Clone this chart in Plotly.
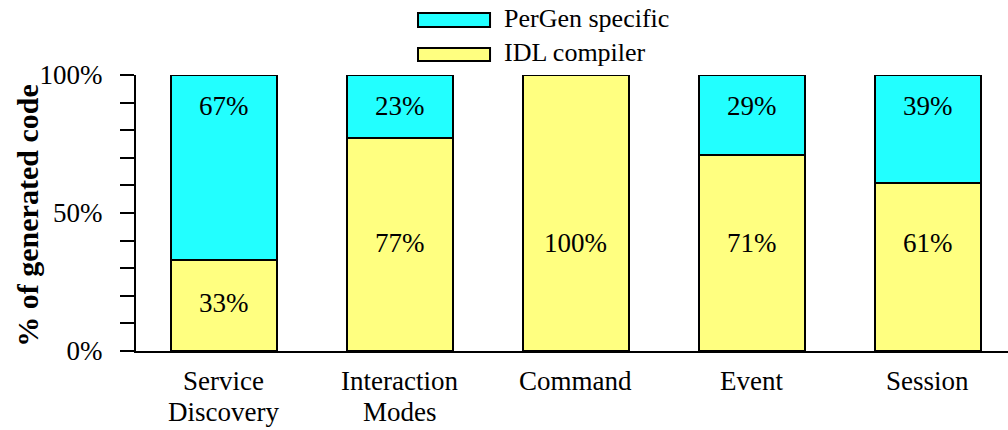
import plotly.graph_objects as go

categories = ["Service<br>Discovery", "Interaction<br>Modes", "Command", "Event", "Session"]
idl_compiler = [33, 77, 100, 71, 61]
pergen_specific = [67, 23, 0, 29, 39]
series_names = ["PerGen specific", "IDL compiler"]
y_tick_vals = [0, 50, 100]
y_tick_text = ["0%", "50%", "100%"]
y_title = "% of generated code"

CYAN = "#22FFFF"
YELLOW = "#FFFF80"
FONT = "Liberation Serif"
FS = 27

fig = go.Figure()
fig.add_trace(go.Bar(
    x=categories, y=idl_compiler, name=series_names[1],
    marker=dict(color=YELLOW, line=dict(color="black", width=2)),
    width=0.6, showlegend=False, hoverinfo="skip",
))
fig.add_trace(go.Bar(
    x=categories, y=pergen_specific, name=series_names[0],
    marker=dict(color=CYAN, line=dict(color="black", width=2)),
    width=0.6, showlegend=False, hoverinfo="skip",
))

# value labels (placed like the original: near top for PerGen, lower part for IDL)
for cat, idl, per in zip(categories, idl_compiler, pergen_specific):
    fig.add_annotation(x=cat, y=(idl / 2 if idl < 50 else 38.5), text=f"{idl}%", showarrow=False,
                       xanchor="center", yanchor="middle", yshift=2,
                       font=dict(family=FONT, size=FS, color="black"))
    if per > 0:
        fig.add_annotation(x=cat, y=100 - 12, text=f"{per}%", showarrow=False,
                           xanchor="center", yanchor="middle", yshift=2,
                           font=dict(family=FONT, size=FS, color="black"))

# category labels (tight line spacing like the original)
for cat in categories:
    for i, line in enumerate(cat.split("<br>")):
        fig.add_annotation(x=cat, xref="x", yref="paper", y=-0.11 - i * 0.11, text=line,
                           showarrow=False, xanchor="center", yanchor="middle",
                           font=dict(family=FONT, size=FS, color="black"))

# custom legend (wide swatches)
legend_items = [(series_names[0], CYAN, 1.1739, 1.2246), (series_names[1], YELLOW, 1.0507, 1.0978)]
for name, col, y0, y1 in legend_items:
    fig.add_shape(type="rect", xref="paper", yref="paper", x0=0.3234, x1=0.406, y0=y0, y1=y1,
                  fillcolor=col, line=dict(color="black", width=2))
    fig.add_annotation(xref="paper", yref="paper", x=0.4197, y=(y0 + y1) / 2, text=name,
                       showarrow=False, xanchor="left", yanchor="middle", yshift=2,
                       font=dict(family=FONT, size=26, color="black"))

# y-axis title
fig.add_annotation(xref="paper", yref="paper", x=-0.1239, y=0.49, text=f"<b>{y_title}</b>",
                   textangle=-90, showarrow=False, xanchor="center", yanchor="middle",
                   font=dict(family=FONT, size=30, color="black"))

fig.update_layout(
    barmode="stack",
    width=1008, height=430,
    margin=dict(l=136, r=0, t=75, b=79, autoexpand=False),
    paper_bgcolor="white", plot_bgcolor="white",
    font=dict(family=FONT, size=FS, color="black"),
)
fig.update_xaxes(
    range=[-0.5, 4.455], showline=True, linecolor="black", linewidth=2, automargin=False,
    ticks="", showgrid=False, showticklabels=False,
)
fig.update_yaxes(
    range=[0, 100], showline=True, linecolor="black", linewidth=2, automargin=False,
    tickvals=y_tick_vals, ticktext=y_tick_text, ticks="outside", ticklen=14, tickwidth=2,
    tickcolor="black", showgrid=False, zeroline=False, ticklabelstandoff=12,
    minor=dict(dtick=10, ticks="outside", ticklen=14, tickwidth=2, tickcolor="black", showgrid=False),
    tickfont=dict(family=FONT, size=FS),
)

fig.write_html("out.html", config={"displayModeBar": False},
               post_script="document.body.style.margin='0';")
